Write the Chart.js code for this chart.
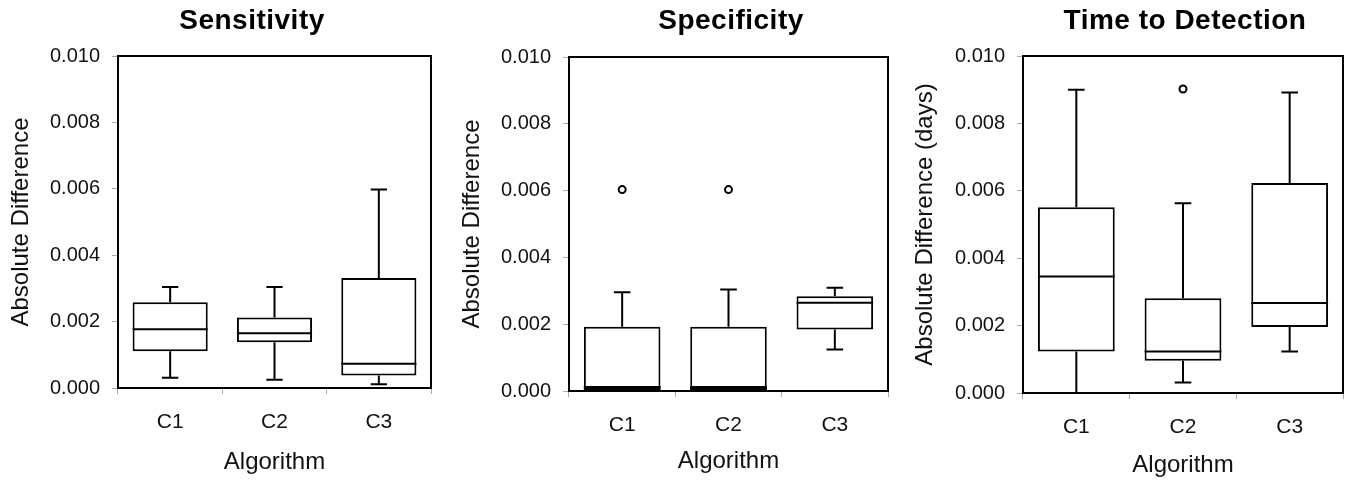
<!DOCTYPE html>
<html>
<head>
<meta charset="utf-8">
<script src="https://cdn.jsdelivr.net/npm/chart.js@4.4.1/dist/chart.umd.min.js"></script>
<style>
  html, body { margin: 0; padding: 0; background: #fff; }
  body { width: 1350px; height: 481px; position: relative; overflow: hidden; }
  .panel { position: absolute; top: 0; width: 450px; height: 481px; }
</style>
</head>
<body>
<div class="panel" style="left:0px"><canvas id="c1" width="450" height="481"></canvas></div>
<div class="panel" style="left:450px"><canvas id="c2" width="450" height="481"></canvas></div>
<div class="panel" style="left:900px"><canvas id="c3" width="450" height="481"></canvas></div>
<script>
// ---- Data ----
const categories = ['C1', 'C2', 'C3'];
const yTickValues = [0.000, 0.002, 0.004, 0.006, 0.008, 0.010];

// Sensitivity
const sensMin    = [0.00031, 0.00025, 0.00011];
const sensQ1     = [0.00111, 0.00138, 0.00038];
const sensMedian = [0.00177, 0.00165, 0.00073];
const sensQ3     = [0.00258, 0.00212, 0.00331];
const sensMax    = [0.00304, 0.00304, 0.00598];
const sensOut    = [null, null, null];

// Specificity
const specMin    = [0.00000, 0.00000, 0.00124];
const specQ1     = [0.00000, 0.00000, 0.00184];
const specMedian = [0.00012, 0.00012, 0.00264];
const specQ3     = [0.00192, 0.00192, 0.00284];
const specMax    = [0.00296, 0.00304, 0.00309];
const specOut    = [0.00603, 0.00603, null];

// Time to Detection
const ttdMin    = [0.00000, 0.00031, 0.00123];
const ttdQ1     = [0.00123, 0.00096, 0.00196];
const ttdMedian = [0.00346, 0.00123, 0.00267];
const ttdQ3     = [0.00551, 0.00281, 0.00623];
const ttdMax    = [0.00900, 0.00563, 0.00892];
const ttdOut    = [null, 0.00902, null];

const FONT = '"Liberation Sans", Arial, Helvetica, sans-serif';
const INK = '#111';

const boxPlugin = {
  id: 'boxExtras',
  afterDatasetsDraw(chart) {
    const st = chart.options.plugins.boxExtras;
    const xs = chart.scales.x, ys = chart.scales.y;
    const meta = chart.getDatasetMeta(0);
    const ctx = chart.ctx;
    const catW = xs.getPixelForValue(1) - xs.getPixelForValue(0);
    const capHalf = catW * 0.078;
    ctx.save();
    ctx.beginPath();
    ctx.rect(chart.chartArea.left, chart.chartArea.top - 2, chart.chartArea.right - chart.chartArea.left, chart.chartArea.bottom - chart.chartArea.top + 2);
    ctx.clip();
    ctx.strokeStyle = '#000';
    ctx.lineWidth = 2;
    ctx.lineCap = 'butt';
    st.min.forEach((mn, i) => {
      const x = xs.getPixelForValue(i);
      const bar = meta.data[i];
      const half = bar.width / 2;
      const yMin = ys.getPixelForValue(mn);
      const yQ1 = ys.getPixelForValue(st.q1[i]);
      const yQ3 = ys.getPixelForValue(st.q3[i]);
      const yMax = ys.getPixelForValue(st.max[i]);
      const yMed = ys.getPixelForValue(st.median[i]);
      ctx.beginPath();
      ctx.moveTo(x, yQ3); ctx.lineTo(x, yMax);
      ctx.moveTo(x - capHalf, yMax); ctx.lineTo(x + capHalf, yMax);
      ctx.moveTo(x, yQ1); ctx.lineTo(x, yMin);
      if (st.min[i] > 0) { ctx.moveTo(x - capHalf, yMin); ctx.lineTo(x + capHalf, yMin); }
      ctx.moveTo(x - half, yMed); ctx.lineTo(x + half, yMed);
      ctx.stroke();
      if (Math.abs(yQ1 - yMed) < 6) {
        ctx.fillStyle = '#000';
        ctx.fillRect(x - half, Math.min(yQ1, yMed) - 1, bar.width, Math.abs(yQ1 - yMed) + 2);
      }
    });
    ctx.restore();
  },
  afterDraw(chart) {
    const a = chart.chartArea, ctx = chart.ctx;
    const t = chart.options.plugins.panelTitle;
    ctx.save();
    ctx.strokeStyle = '#000';
    ctx.lineWidth = 2;
    ctx.strokeRect(a.left, a.top, a.right - a.left, a.bottom - a.top);
    ctx.fillStyle = '#000';
    ctx.font = 'bold 28px ' + FONT;
    ctx.textAlign = 'center';
    ctx.textBaseline = 'middle';
    if ('letterSpacing' in ctx) ctx.letterSpacing = '0.5px';
    ctx.fillText(t.text, t.x, t.y);
    ctx.restore();
  }
};

function makeChart(id, title, yTitle, stats, outliers, lay) {
  return new Chart(document.getElementById(id), {
    type: 'bar',
    data: {
      labels: categories,
      datasets: [
        {
          data: stats.q1.map((v, i) => [v, stats.q3[i]]),
          backgroundColor: '#fff',
          borderColor: '#000',
          borderWidth: 2,
          borderSkipped: false,
          barPercentage: 0.72,
          categoryPercentage: 1.0,
          order: 2
        },
        {
          type: 'line',
          data: outliers,
          showLine: false,
          pointRadius: 3.5,
          pointBorderWidth: 2,
          pointBackgroundColor: '#fff',
          pointBorderColor: '#000',
          order: 1
        }
      ]
    },
    options: {
      responsive: false,
      animation: false,
      devicePixelRatio: 1,
      layout: { padding: { left: 0, right: lay.padRight, top: lay.top, bottom: 0 } },
      plugins: {
        legend: { display: false },
        tooltip: { enabled: false },
        title: { display: false },
        panelTitle: { text: title, x: lay.titleX, y: 21 },
        boxExtras: stats
      },
      scales: {
        x: {
          offset: true,
          grid: { display: true, drawOnChartArea: false, drawTicks: true, tickLength: 6, color: '#aaa', offset: true },
          border: { display: true, color: '#000', width: 2 },
          ticks: { color: INK, font: { family: FONT, size: 21 }, padding: 16 },
          title: {
            display: true, text: 'Algorithm', color: INK,
            font: { family: FONT, size: 24, lineHeight: 1.2 },
            padding: { top: 0, bottom: lay.xTitleBottom }
          },
          afterFit: (s) => { s.height = lay.xH; }
        },
        y: {
          min: 0, max: 0.010,
          afterBuildTicks: (s) => { s.ticks = yTickValues.map(v => ({ value: v })); },
          grid: { display: true, drawOnChartArea: false, drawTicks: true, tickLength: 6, color: '#aaa' },
          border: { display: true, color: '#000', width: 2 },
          ticks: { color: INK, font: { family: FONT, size: 20 }, padding: 12, callback: (v) => Number(v).toFixed(3) },
          title: {
            display: true, text: yTitle, color: INK,
            font: { family: FONT, size: 24, lineHeight: 1.2 },
            padding: { top: lay.yTitleLeft - 14.4, bottom: 0 }
          },
          afterFit: (s) => { s.width = lay.yW; }
        }
      }
    },
    plugins: [boxPlugin]
  });
}

makeChart('c1', 'Sensitivity', 'Absolute Difference',
  { min: sensMin, q1: sensQ1, median: sensMedian, q3: sensQ3, max: sensMax }, sensOut,
  { padRight: 19, top: 56, xH: 93, yW: 118, yTitleLeft: 21, xTitleBottom: 4.6, titleX: 252 });

makeChart('c2', 'Specificity', 'Absolute Difference',
  { min: specMin, q1: specQ1, median: specMedian, q3: specQ3, max: specMax }, specOut,
  { padRight: 12, top: 57, xH: 90, yW: 119, yTitleLeft: 22, xTitleBottom: 4.9, titleX: 281 });

makeChart('c3', 'Time to Detection', 'Absolute Difference (days)',
  { min: ttdMin, q1: ttdQ1, median: ttdMedian, q3: ttdQ3, max: ttdMax }, ttdOut,
  { padRight: 7, top: 56, xH: 88, yW: 123, yTitleLeft: 25, xTitleBottom: 1.6, titleX: 285 });
</script>
</body>
</html>
